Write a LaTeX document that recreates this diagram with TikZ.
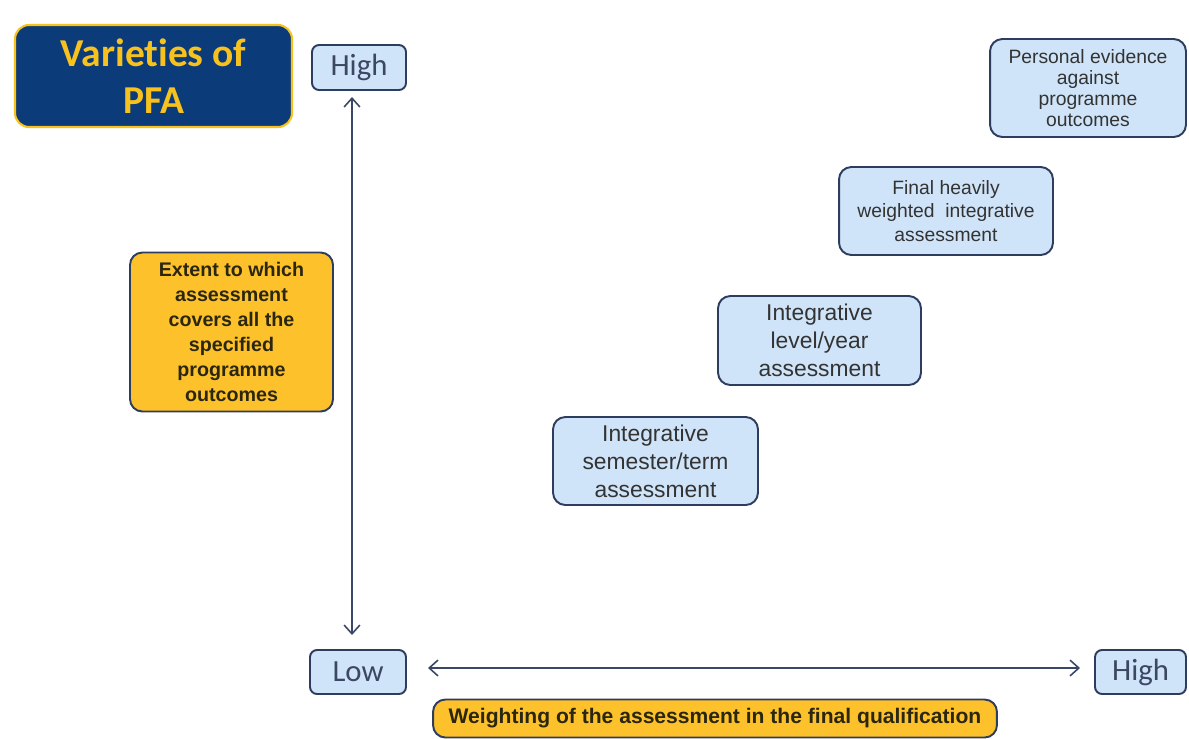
\documentclass[tikz,border=0pt]{standalone}
\usepackage{fontspec}
\setmainfont{Liberation Sans}
\newfontfamily\calfont[Ligatures=NoCommon]{Carlito}
\usetikzlibrary{arrows.meta}
\definecolor{navy}{HTML}{0B3B78}
\definecolor{gold}{HTML}{F7C21E}
\definecolor{boxfill}{HTML}{CFE4F8}
\definecolor{boxline}{HTML}{2E3D5E}
\definecolor{ylwfill}{HTML}{FDC22B}
\definecolor{arrowc}{HTML}{3A4768}
\definecolor{txtgray}{HTML}{333333}
\definecolor{hltxt}{HTML}{3C4762}
\definecolor{ylwtxt}{HTML}{2A2610}
\tikzset{
  bluebox/.style={draw=boxline, line width=1.1pt, fill=boxfill, rounded corners=7pt, align=center, inner sep=0pt, text=txtgray},
  hlbox/.style={draw=boxline, line width=1.1pt, fill=boxfill, rounded corners=4pt, align=center, inner sep=0pt, text=hltxt, font=\calfont\fontsize{17.5}{20}\selectfont},
  ylwbox/.style={draw=boxline, line width=1.1pt, fill=ylwfill, rounded corners=7pt, align=center, inner sep=0pt, text=ylwtxt},
  axis/.style={draw=arrowc, line width=0.9pt, {Straight Barb[length=5pt,width=9pt]}-{Straight Barb[length=5pt,width=9pt]}}
}
\begin{document}
\begin{tikzpicture}[x=0.02cm,y=-0.02cm]
\useasboundingbox[fill=white] (0,0) rectangle (1189,738);
% title
\node[draw=gold, line width=1.2pt, fill=navy, rounded corners=8pt, minimum width=5.54cm, minimum height=2.04cm, inner sep=0pt, align=center, text=gold, font=\calfont\bfseries\fontsize{22.5}{26.5}\selectfont] (title) at (153.5,76) {Varieties of\\PFA};
% axis labels
\node[hlbox, minimum width=1.88cm, minimum height=0.9cm] (hightop) at (359,67.5) {High};
\node[hlbox, minimum width=1.92cm, minimum height=0.88cm] (low) at (358,672) {Low};
\node[hlbox, minimum width=1.82cm, minimum height=0.88cm] (highright) at (1140.5,672) {High};
% yellow boxes
\node[ylwbox, minimum width=4.06cm, minimum height=3.18cm, font=\bfseries\fontsize{11.2}{14.2}\selectfont] (extent) at (231.5,332) {Extent to which\\assessment\\covers all the\\specified\\programme\\outcomes};
\node[ylwbox, minimum width=11.28cm, minimum height=0.76cm, font=\bfseries\fontsize{12}{14}\selectfont] (weight) at (715,718.5) {Weighting of the assessment in the final qualification};
% blue boxes
\node[bluebox, minimum width=4.1cm, minimum height=1.76cm, font=\fontsize{13}{15.9}\selectfont] (sem) at (655.5,461) {Integrative\\semester/term\\assessment};
\node[bluebox, minimum width=4.06cm, minimum height=1.78cm, font=\fontsize{13}{15.9}\selectfont] (lvl) at (819.5,340.5) {Integrative\\level/year\\assessment};
\node[bluebox, minimum width=4.28cm, minimum height=1.76cm, font=\fontsize{11}{13.6}\selectfont] (fin) at (946,211) {Final heavily\\weighted\ \ integrative\\assessment};
\node[bluebox, minimum width=3.92cm, minimum height=1.96cm, font=\fontsize{11}{11.9}\selectfont] (pers) at (1088,88) {Personal evidence\\against\\programme\\outcomes};
% axes
\coordinate (vtop) at (352,97);
\coordinate (vbot) at (352,635);
\coordinate (hleft) at (428,668);
\coordinate (hright) at (1080,668);
\draw[axis] (vtop) -- (vbot);
\draw[axis] (hleft) -- (hright);
\end{tikzpicture}
\end{document}
